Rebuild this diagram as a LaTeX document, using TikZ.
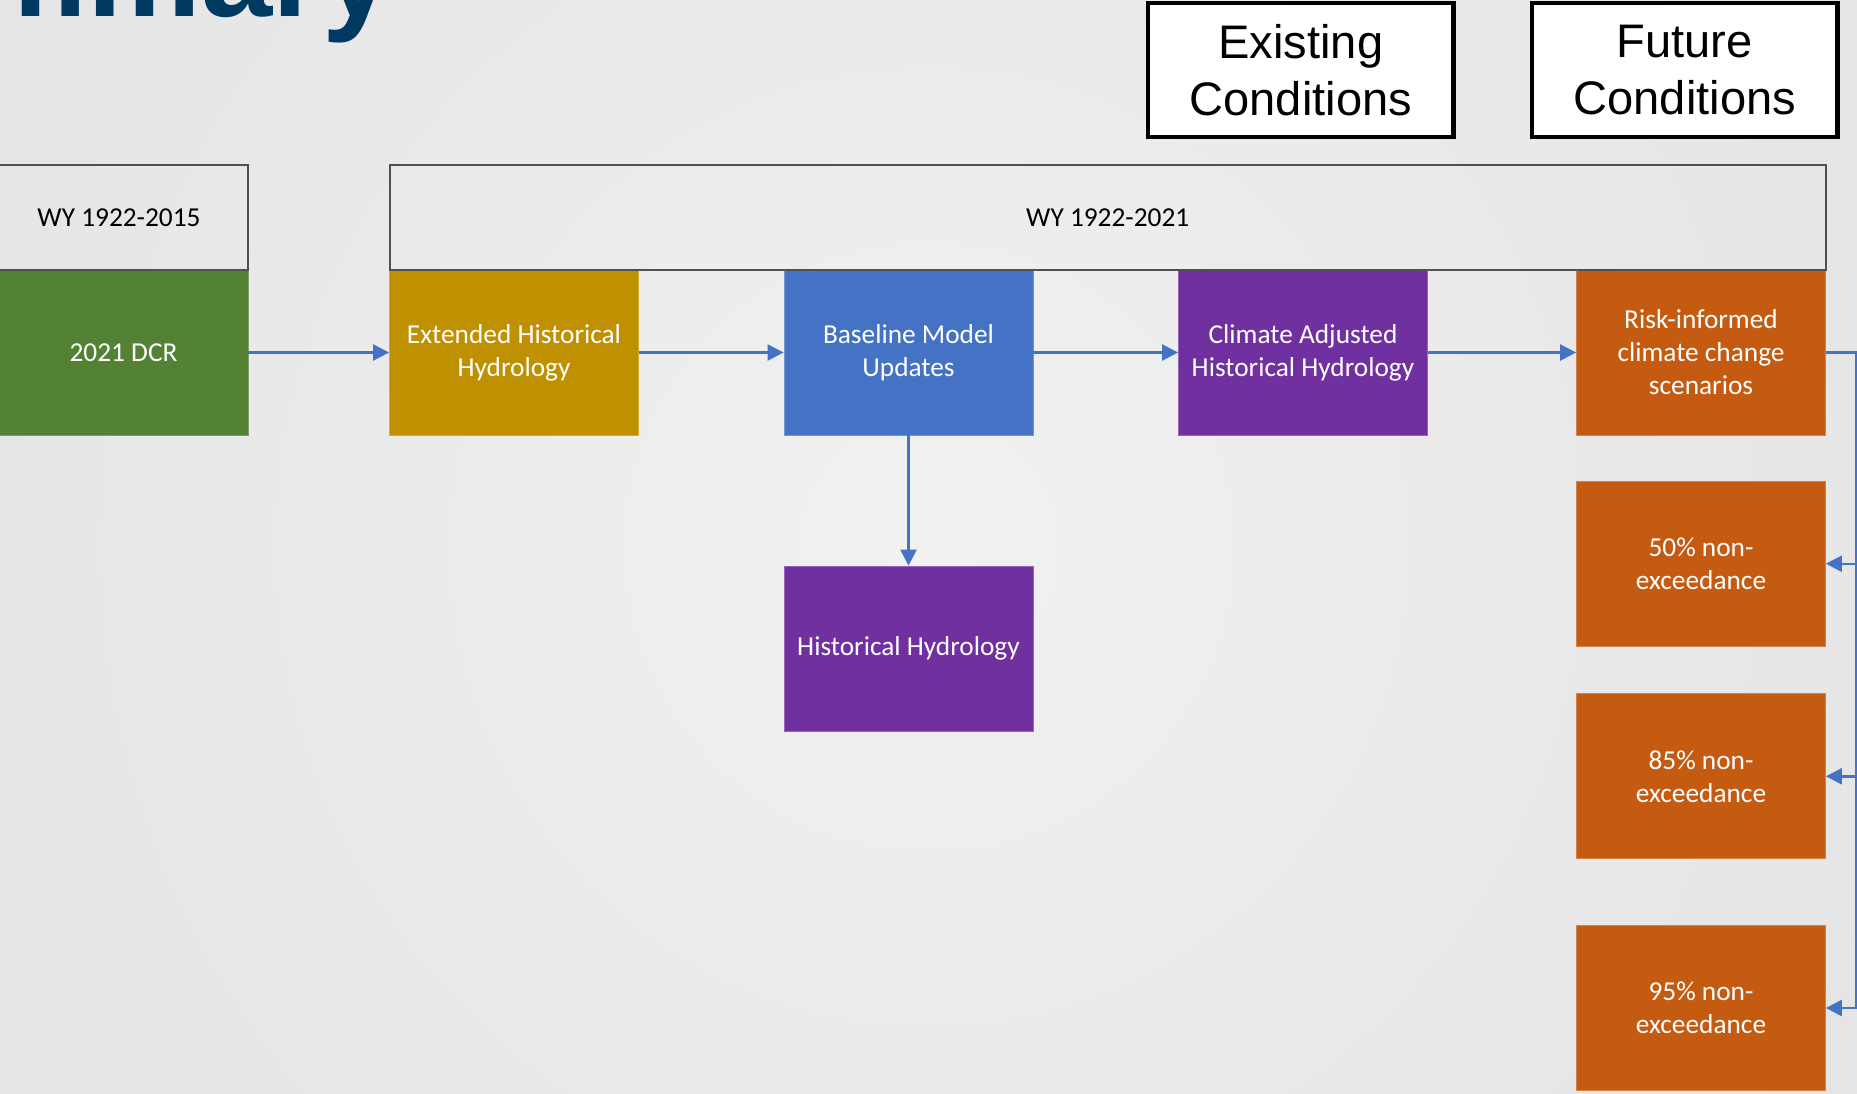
\documentclass[tikz,border=0pt]{standalone}
\usepackage{fontspec}
\setmainfont{Carlito}
\newfontfamily\arialfont{Liberation Sans}
\usetikzlibrary{arrows.meta}

\definecolor{stepgreen}{RGB}{84,130,53}
\definecolor{stepgold}{RGB}{191,144,0}
\definecolor{stepblue}{RGB}{68,114,196}
\definecolor{steppurple}{RGB}{112,48,160}
\definecolor{steporange}{RGB}{197,90,17}
\definecolor{titleblue}{RGB}{0,58,99}
\definecolor{framegray}{RGB}{80,80,80}
\definecolor{bgcenter}{RGB}{241,241,241}
\definecolor{bgedge}{RGB}{218,218,218}

\begin{document}
\begin{tikzpicture}[x=0.75pt,y=0.75pt,yscale=-1,xscale=1,
  stepbox/.style={rectangle, fill=#1, draw=#1!75!white, line width=0.6pt, inner sep=0pt,
    minimum width=186.75pt, minimum height=123.75pt, align=center, text=white,
    font=\fontsize{20.5}{24.75}\selectfont},
  yearbox/.style={rectangle, draw=framegray, line width=1.5pt, inner sep=0pt,
    minimum height=79pt, font=\fontsize{20.5}{24.75}\selectfont},
  casebox/.style={rectangle, draw=black, fill=white, line width=3.2pt, inner sep=0pt,
    minimum width=229pt, minimum height=100pt, align=center,
    font=\arialfont\fontsize{35.3}{42.75}\selectfont},
  flow/.style={draw=stepblue, line width=1.8pt, -{Triangle[length=12pt,width=12pt]}}
]
\useasboundingbox (0,0) rectangle (1857,1093);
\clip (0,0) rectangle (1857,1093);

%Shape: Background
\fill [bgedge] (0,0) rectangle (1857,1093);
\shade [inner color=bgcenter, outer color=bgedge] (928.5,546.5) circle (2000);

% Text Node
\node [anchor=base west, inner sep=0pt, text=titleblue, font=\arialfont\bfseries\fontsize{96}{110}\selectfont] (title) at (-190,16.7) {Summary};

%Shape: Rectangle
\node [stepbox=stepgreen] (dcr) at (123.5,352.5) {2021 DCR};
%Shape: Rectangle
\node [stepbox=stepgold] (ext) at (514,352.5) {Extended Historical\\Hydrology};
%Shape: Rectangle
\node [stepbox=stepblue] (base) at (908.5,352.5) {Baseline Model\\Updates};
%Shape: Rectangle
\node [stepbox=steppurple] (clim) at (1303,352.5) {Climate Adjusted\\Historical Hydrology};
%Shape: Rectangle
\node [stepbox=steporange] (risk) at (1701,352.5) {Risk-informed\\climate change\\scenarios};
%Shape: Rectangle
\node [stepbox=steppurple] (hist) at (908.5,648.5) {Historical Hydrology};
%Shape: Rectangle
\node [stepbox=steporange] (p50) at (1701,563.7) {50\% non-\\exceedance};
%Shape: Rectangle
\node [stepbox=steporange] (p85) at (1701,776.3) {85\% non-\\exceedance};
%Shape: Rectangle
\node [stepbox=steporange] (p95) at (1701,1008) {95\% non-\\exceedance};

%Shape: Rectangle
\node [yearbox, minimum width=193.5pt] (wyold) at (119,217.3) {WY 1922-2015};
%Shape: Rectangle
\node [yearbox, minimum width=1077pt] (wynew) at (1107.7,217.3) {WY 1922-2021};

%Shape: Rectangle
\node [casebox] (exist) at (1300.8,70) {Existing\\Conditions};
%Shape: Rectangle
\node [casebox] (future) at (1684.8,70) {Future\\Conditions};

%Straight Lines
\draw [flow] (dcr) -- (ext);
\draw [flow] (ext) -- (base);
\draw [flow] (base) -- (clim);
\draw [flow] (clim) -- (risk);
\draw [flow] (base) -- (hist);

%Straight Lines
\coordinate (bend) at (1856,352.5);
\draw [flow] (risk.east) -- (bend) |- (p95.east);
\draw [flow] (bend |- p50.east) -- (p50.east);
\draw [flow] (bend |- p85.east) -- (p85.east);

\end{tikzpicture}
\end{document}
